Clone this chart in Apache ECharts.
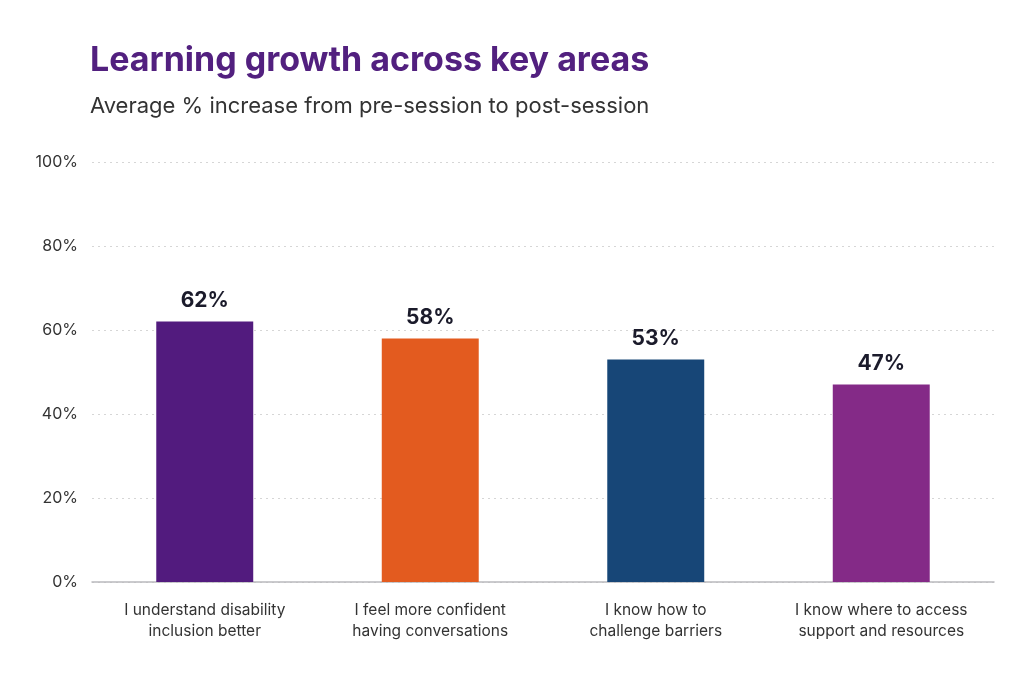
<!DOCTYPE html>
<html>
<head>
<meta charset="utf-8">
<style>
  html, body { margin: 0; padding: 0; background: #fff; }
  #chart { width: 1024px; height: 683px; }
</style>
<script src="https://cdn.jsdelivr.net/npm/echarts@6/dist/echarts.min.js"></script>
</head>
<body>
<div id="chart"></div>
<script>
const categories = [
  'I understand disability\ninclusion better',
  'I feel more confident\nhaving conversations',
  'I know how to\nchallenge barriers',
  'I know where to access\nsupport and resources'
]
const increaseValues = [62, 58, 53, 47]
const barColors = ['#521B7E', '#E35B1F', '#174677', '#842A87']
const yTicks = [0, 20, 40, 60, 80, 100]

const chart = echarts.init(document.getElementById('chart'))
chart.setOption({
  backgroundColor: '#fff',
  textStyle: { fontFamily: 'Inter, sans-serif' },
  title: {
    text: 'Learning growth across key areas',
    subtext: 'Average % increase from pre-session to post-session',
    left: 85,
    top: 39,
    itemGap: 17,
    textStyle: {
      color: '#52207F',
      fontSize: 34,
      fontWeight: 'bold',
      fontFamily: 'Inter, sans-serif'
    },
    subtextStyle: {
      color: '#333',
      fontSize: 22,
      fontFamily: 'Inter, sans-serif'
    }
  },
  grid: {
    left: 92,
    right: 30,
    top: 162,
    bottom: 101
  },
  xAxis: {
    type: 'category',
    data: categories,
    axisTick: { show: false },
    axisLine: {
      show: true,
      lineStyle: { color: '#b9b9bd', width: 1.5 }
    },
    axisLabel: {
      color: '#333',
      fontSize: 15.5,
      lineHeight: 21,
      margin: 18,
      interval: 0
    }
  },
  yAxis: {
    type: 'value',
    min: yTicks[0],
    max: yTicks[yTicks.length - 1],
    interval: 20,
    axisLine: { show: false },
    axisTick: { show: false },
    splitLine: {
      show: true,
      lineStyle: { type: [2, 4], color: '#d6d6d6' }
    },
    axisLabel: {
      color: '#333',
      fontSize: 16,
      margin: 14,
      formatter: '{value}%'
    }
  },
  series: [
    {
      type: 'bar',
      barWidth: '43%',
      data: increaseValues.map((v, i) => ({
        value: v,
        itemStyle: { color: barColors[i] }
      })),
      label: {
        show: true,
        position: 'top',
        distance: 10,
        color: '#1b1b2b',
        fontSize: 21,
        fontWeight: 'bold',
        formatter: '{c}%'
      }
    }
  ]
})
</script>
</body>
</html>
